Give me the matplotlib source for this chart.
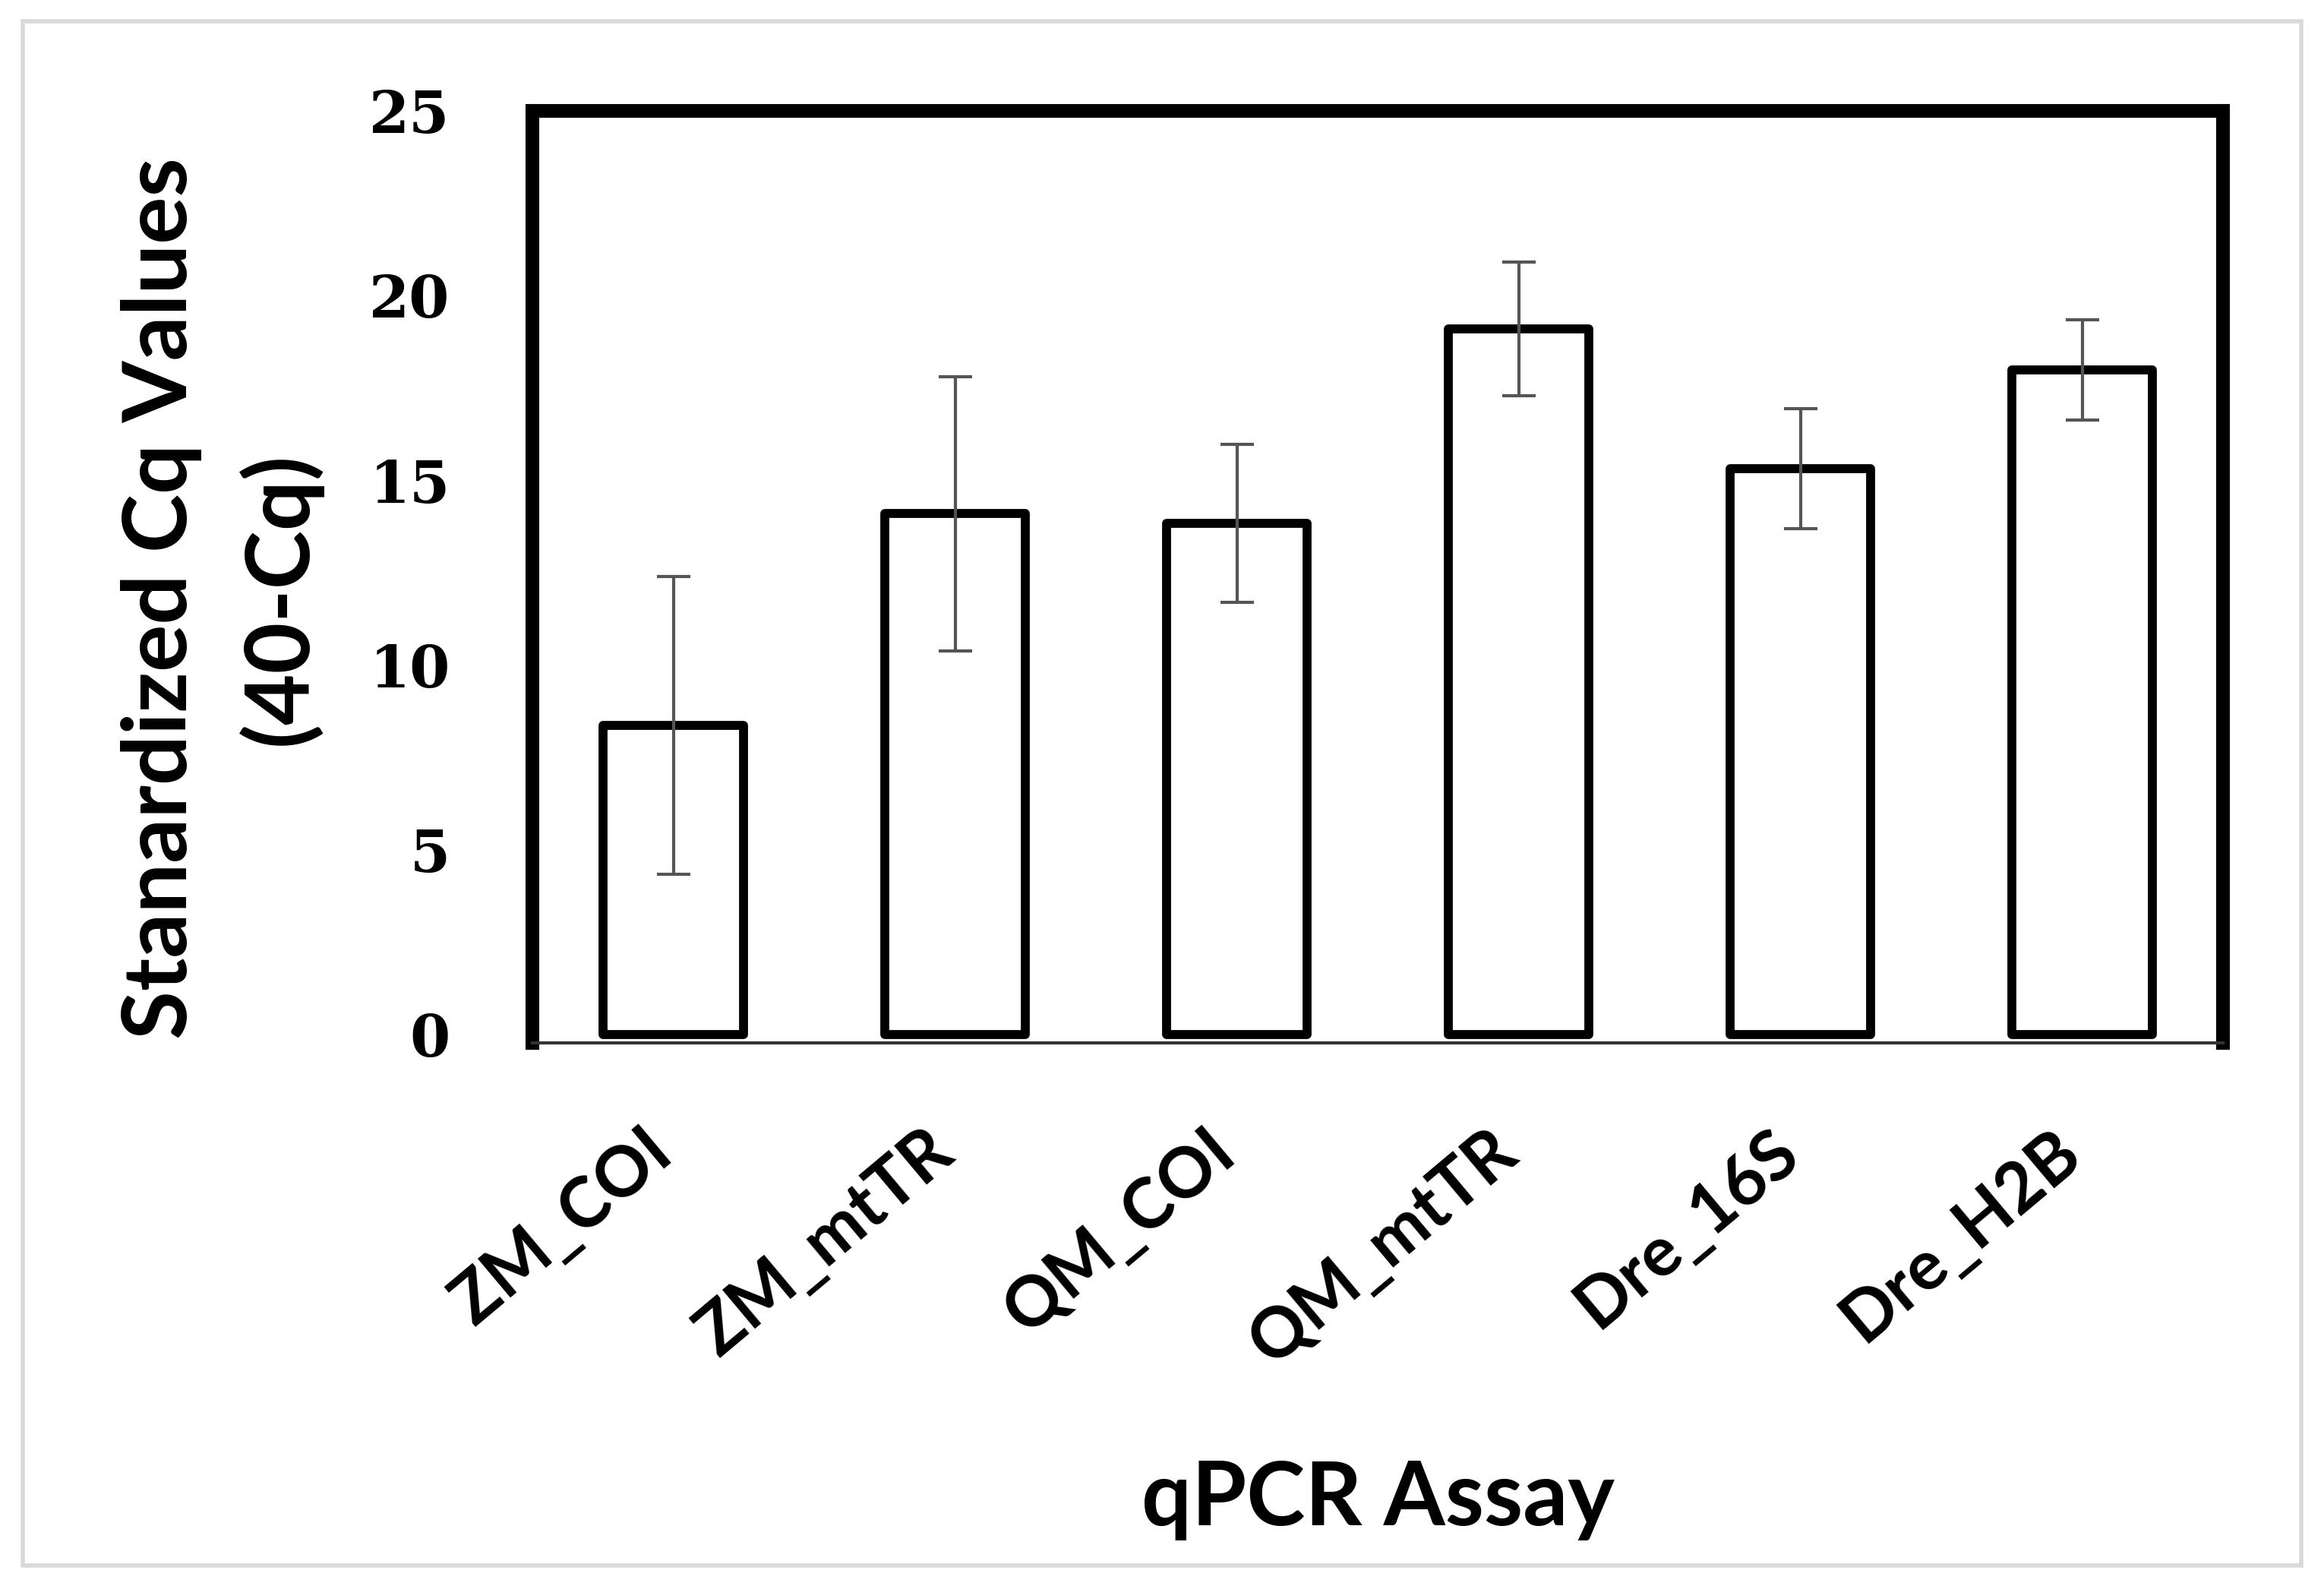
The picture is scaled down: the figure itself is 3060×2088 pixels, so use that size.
import matplotlib
matplotlib.use("Agg")
import matplotlib.pyplot as plt
from matplotlib.patches import Rectangle
import matplotlib.transforms as mtransforms
import numpy as np

# DATA------------------------------------------------------------------------------------------------------------------
assays = ["ZM_COI", "ZM_mtTR", "QM_COI", "QM_mtTR", "Dre_16S", "Dre_H2B"]
cq_values = [8.37, 14.10, 13.84, 19.10, 15.32, 17.99]
cq_errors = [4.03, 3.71, 2.13, 1.81, 1.62, 1.35]
y_ticks = [0, 5, 10, 15, 20, 25]

# FIGURE----------------------------------------------------------------------------------------------------------------
fig = plt.figure(figsize=(30.6, 20.88), dpi=100)
fig.patch.set_facecolor("white")

# light grey frame round the whole picture
fig.patches.append(Rectangle((30 / 3060, 1 - 2061 / 2088), 3000 / 3060, 2033 / 2088,
                             transform=fig.transFigure, fill=False,
                             edgecolor="#d9d9d9", linewidth=4))

ax = fig.add_axes([701 / 3060, 1 - 1373 / 2088, 2226 / 3060, 1227 / 2088])

x = np.arange(len(assays))
ax.bar(x, cq_values, width=0.5, color="white", edgecolor="black", linewidth=8.5,
       joinstyle="round", zorder=2)
ax.errorbar(x, cq_values, yerr=cq_errors, fmt="none", ecolor="#555555",
            elinewidth=3, capsize=16, capthick=3, zorder=3)

ax.set_xlim(-0.5, len(assays) - 0.5)
ax.set_ylim(-0.22, 25)

# thick frame on top/left/right, thin grey axis line at bottom
for side in ["top", "left", "right"]:
    ax.spines[side].set_linewidth(13)
    ax.spines[side].set_color("black")
ax.spines["bottom"].set_linewidth(3)
ax.spines["bottom"].set_color("#333333")

ax.set_yticks(y_ticks)
ax.set_yticklabels([str(t) for t in y_ticks], family="DejaVu Serif",
                   fontweight="bold", fontsize=55)
ax.tick_params(axis="y", length=0, pad=78)

ax.set_xticks(x)
ax.set_xticklabels(assays, family="Lato", fontweight="bold", fontsize=66,
                   rotation=40, ha="right", va="center", rotation_mode="anchor")
ax.tick_params(axis="x", length=0, pad=95)
# nudge the rotated labels so their upper end sits at the bar centre
offset = mtransforms.ScaledTranslation(-10 / 72, 0, fig.dpi_scale_trans)
for lbl in ax.get_xticklabels():
    lbl.set_transform(lbl.get_transform() + offset)

ax.set_ylabel("Stanardized Cq Values\n(40-Cq)", family="Lato", fontweight="bold",
              fontsize=84, linespacing=1.5, va="center")
ax.yaxis.set_label_coords(-0.184, 0.477)
ax.set_xlabel("qPCR Assay", family="Lato", fontweight="bold", fontsize=84, va="center")
ax.xaxis.set_label_coords(0.5, -0.49)

plt.savefig("out.png", dpi=100, facecolor="white")
